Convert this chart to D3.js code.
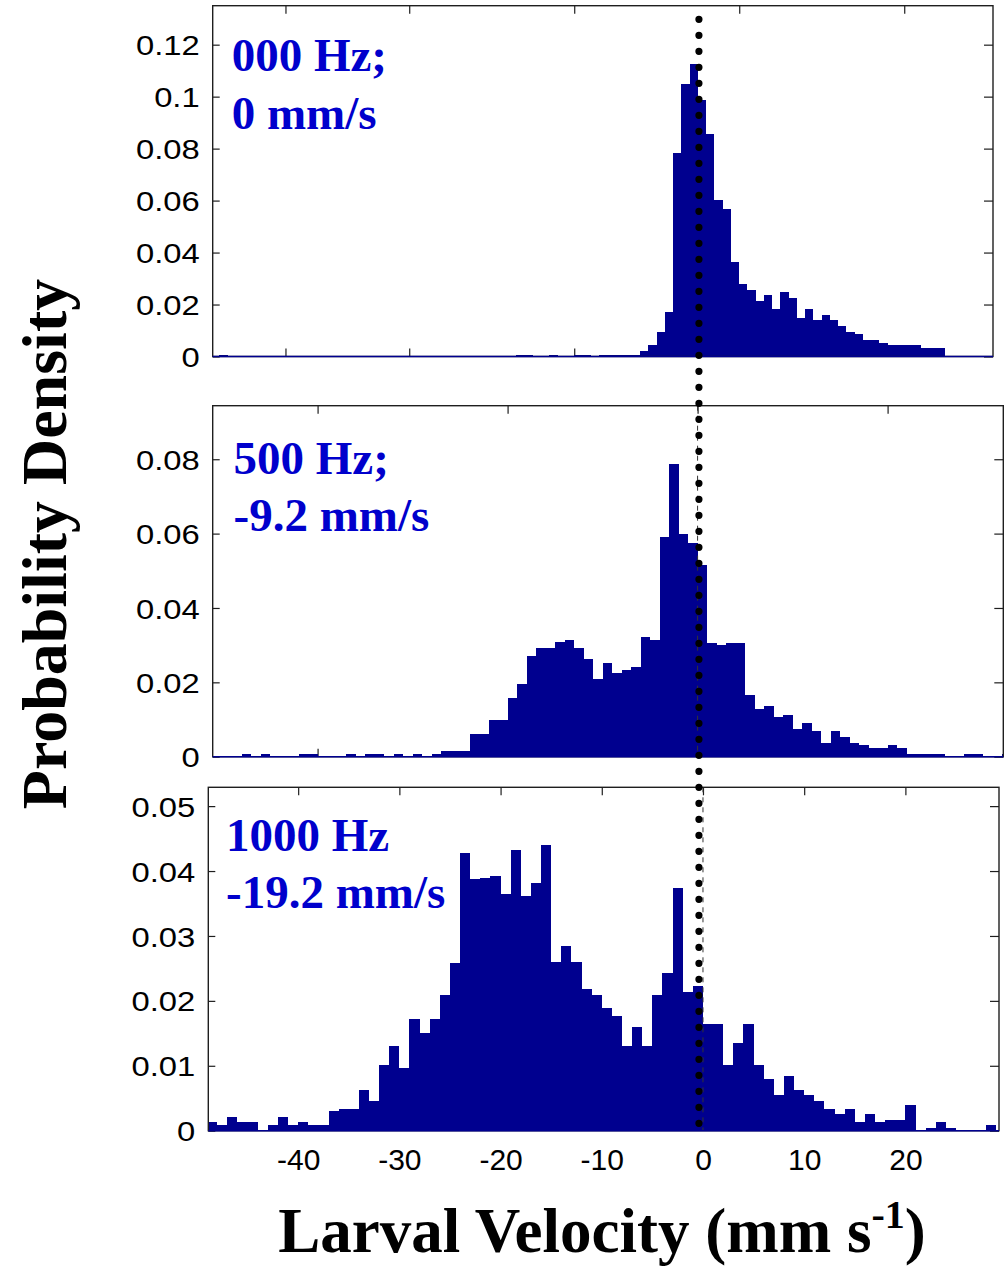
<!DOCTYPE html>
<html>
<head>
<meta charset="utf-8">
<script src="https://cdn.jsdelivr.net/npm/d3@7"></script>
<style>
  body { margin: 0; background: #fff; }
  svg { display: block; }
</style>
</head>
<body>
<div id="chart"></div>
<script>
// Histogram data, one bin = 1 mm/s, values are probability density
var binWidth = 1;

// 0 Hz panel, first bin starts at -63
var lowStart = -63;
var lowDensity = [
  0.0007,
  0, 0, 0, 0, 0, 0, 0, 0, 0, 0,
  0, 0, 0, 0, 0, 0, 0, 0, 0, 0,
  0, 0, 0, 0, 0, 0, 0, 0, 0, 0,
  0, 0, 0, 0, 0,
  0.0007, 0.0007, 0, 0, 0.0007, 0, 0, 0.0007, 0.0007, 0,
  0.0007, 0.0007, 0.0007, 0.0007, 0.0007,
  0.0021, 0.0044, 0.0094, 0.0171, 0.0783, 0.1048, 0.1126, 0.0988, 0.0856, 0.0602, 0.0567, 0.0363,
  0.0279, 0.0256, 0.0214, 0.0237, 0.0183, 0.0248, 0.0225, 0.0148, 0.0183, 0.0140,
  0.0160, 0.0140, 0.0117, 0.0094, 0.0087, 0.0063, 0.0063, 0.0052, 0.0044, 0.0044,
  0.0044, 0.0044, 0.0033, 0.0033, 0.0033
];

// 500 Hz panel, first bin starts at -48
var midStart = -48;
var midDensity = [
  0.0007, 0, 0.0007, 0, 0, 0, 0.0007, 0.0007, 0, 0,
  0, 0.0007, 0, 0.0007, 0.0007, 0, 0.0007, 0, 0.0007, 0,
  0.0007, 0.0015, 0.0015, 0.0015, 0.0061, 0.0061, 0.0098, 0.0098, 0.0157, 0.0195,
  0.0270, 0.0292, 0.0292, 0.0308, 0.0313, 0.0292, 0.0262, 0.0209, 0.0253, 0.0225,
  0.0233, 0.0241, 0.0321, 0.0314, 0.0590, 0.0786, 0.0598, 0.0576,
  0.0515, 0.0307, 0.0300, 0.0307, 0.0307, 0.0166, 0.0128, 0.0136, 0.0106, 0.0112,
  0.0074, 0.0090, 0.0069, 0.0037, 0.0069, 0.0053, 0.0037, 0.0031, 0.0023, 0.0023,
  0.0031, 0.0023, 0.0007, 0.0007, 0.0007, 0.0007, 0, 0, 0.0007, 0.0007,
  0, 0, 0.0007
];

// 1000 Hz panel, first bin starts at -49
var highStart = -49;
var highDensity = [
  0.0013, 0.0009, 0.0021, 0.0013, 0.0013, 0.0001, 0.0009, 0.0021, 0.0009, 0.0013,
  0.0009, 0.0009, 0.0030, 0.0033, 0.0033, 0.0063, 0.0046, 0.0101, 0.0130, 0.0097,
  0.0172, 0.0150, 0.0172, 0.0209, 0.0259, 0.0428, 0.0387, 0.0390, 0.0393, 0.0365,
  0.0432, 0.0361, 0.0381, 0.0440, 0.0260, 0.0285, 0.0260, 0.0218, 0.0209, 0.0189,
  0.0177, 0.0130, 0.0160, 0.0130, 0.0209, 0.0243, 0.0374, 0.0214, 0.0223,
  0.0164, 0.0164, 0.0101, 0.0135, 0.0164, 0.0101, 0.0080, 0.0055, 0.0084, 0.0063,
  0.0055, 0.0046, 0.0033, 0.0026, 0.0033, 0.0014, 0.0026, 0.0014, 0.0016, 0.0016,
  0.0039, 0.0001, 0.0004, 0.0014, 0.0004, 0.0001, 0.0001, 0.0001, 0.0009
];

// Panel text
var lowLabel = ["000 Hz;", "0 mm/s"];
var midLabel = ["500 Hz;", "-9.2 mm/s"];
var highLabel = ["1000 Hz", "-19.2 mm/s"];

// Axis limits and ticks
var lowXLimits = [-63.82, 30.76];
var midXLimits = [-51.04, 32.18];
var highXLimits = [-48.88, 29.25];
var lowYMax = 0.135;
var midYMax = 0.0944;
var highYMax = 0.0529;
var lowXTicks = [-55, -40, -20, 0, 20];
var midXTicks = [-40, -20, 0, 20];
var highXTicks = [-40, -30, -20, -10, 0, 10, 20];
var lowYTicks = [0, 0.02, 0.04, 0.06, 0.08, 0.1, 0.12];
var midYTicks = [0, 0.02, 0.04, 0.06, 0.08];
var highYTicks = [0, 0.01, 0.02, 0.03, 0.04, 0.05];

// Layout
var fullWidth = 1007;
var fullHeight = 1268;
var barColor = "#00008f";
var noteColor = "#0000cc";
var frameColor = "#1e1e1e";
var dotTop = 19.3;
var dotBottom = 1123.3;
var dotValue = -0.4; // where the dotted marker sits on the bottom axis

var panels = [
  { start: lowStart, density: lowDensity, label: lowLabel, xLimits: lowXLimits, yMax: lowYMax,
    xTicks: lowXTicks, yTicks: lowYTicks, dashZero: false, showX: false,
    box: { left: 212.7, right: 993, top: 5.7, bottom: 356.5 },
    note: { x: 231.7, y: 70.7, gap: 58.6 } },
  { start: midStart, density: midDensity, label: midLabel, xLimits: midXLimits, yMax: midYMax,
    xTicks: midXTicks, yTicks: midYTicks, dashZero: true, showX: false,
    box: { left: 212.7, right: 1003.3, top: 405.7, bottom: 756.7 },
    note: { x: 233.5, y: 474, gap: 56.7 } },
  { start: highStart, density: highDensity, label: highLabel, xLimits: highXLimits, yMax: highYMax,
    xTicks: highXTicks, yTicks: highYTicks, dashZero: true, showX: true,
    box: { left: 208.3, right: 999, top: 787.3, bottom: 1130.7 },
    note: { x: 226, y: 850.7, gap: 57 } }
];

var tickFont = '"Liberation Sans", Arial, Helvetica, sans-serif';
var titleFont = '"Liberation Serif", "Times New Roman", Times, serif';

var svg = d3.select('#chart')
  .append('svg')
  .attr('width', fullWidth)
  .attr('height', fullHeight);

function yFormat(d) {
  return d === 0 ? "0" : d3.format("~g")(d);
}

// plain hyphen minus, like the original figure
function xFormat(d) {
  return String(d);
}

function DrawPanel(p) {
  var box = p.box;
  var x = d3.scaleLinear().domain(p.xLimits).range([box.left, box.right]).clamp(true);
  var y = d3.scaleLinear().domain([0, p.yMax]).range([box.bottom, box.top]);
  var g = svg.append('g');

  // bins -> bars
  var bins = p.density.map(function(d, i) {
    return { x0: p.start + i * binWidth, x1: p.start + (i + 1) * binWidth, value: d };
  }).filter(function(d) { return d.value > 0; });

  // tick marks (inward, all four sides)
  var top = g.append('g').attr('transform', 'translate(0,' + box.top + ')')
    .call(d3.axisTop(x).tickValues(p.xTicks).tickSize(-8).tickFormat(''));
  var bottom = g.append('g').attr('transform', 'translate(0,' + box.bottom + ')')
    .call(d3.axisBottom(x).tickValues(p.xTicks).tickSize(-8).tickPadding(18)
      .tickFormat(p.showX ? xFormat : ''));
  var left = g.append('g').attr('transform', 'translate(' + box.left + ',0)')
    .call(d3.axisLeft(y).tickValues(p.yTicks).tickSize(-7).tickPadding(13).tickFormat(yFormat));
  var right = g.append('g').attr('transform', 'translate(' + box.right + ',0)')
    .call(d3.axisRight(y).tickValues(p.yTicks).tickSize(-9).tickFormat(''));

  [top, bottom, left, right].forEach(function(a) {
    a.select('.domain').remove();
    a.selectAll('line').attr('stroke', frameColor).attr('stroke-width', 1.2);
    a.selectAll('text').attr('font-family', tickFont).attr('fill', '#000');
  });

  left.selectAll('text')
    .attr('font-size', 28)
    .attr('dy', '0.36em')
    .each(function() {
      var w = this.getComputedTextLength();
      d3.select(this).attr('textLength', w * 1.17).attr('lengthAdjust', 'spacingAndGlyphs');
    });
  bottom.selectAll('text').attr('font-size', 30);

  g.append('g').selectAll('rect')
    .data(bins)
    .enter()
    .append('rect')
      .attr('x', function(d) { return x(d.x0); })
      .attr('width', function(d) { return Math.max(0, x(d.x1) - x(d.x0)); })
      .attr('y', function(d) { return y(d.value); })
      .attr('height', function(d) { return y(0) - y(d.value); })
      .attr('fill', barColor)
      .attr('shape-rendering', 'crispEdges');

  // thin dashed zero line
  if (p.dashZero) {
    g.append('line')
      .attr('x1', x(0)).attr('x2', x(0))
      .attr('y1', box.top).attr('y2', box.bottom)
      .attr('stroke', '#333')
      .attr('stroke-width', 1)
      .attr('stroke-dasharray', '5,5');
  }

  // frame
  g.append('rect')
    .attr('x', box.left).attr('y', box.top)
    .attr('width', box.right - box.left).attr('height', box.bottom - box.top)
    .attr('fill', 'none')
    .attr('stroke', frameColor)
    .attr('stroke-width', 1.4);
  g.append('line')
    .attr('x1', box.left).attr('x2', box.right)
    .attr('y1', box.bottom).attr('y2', box.bottom)
    .attr('stroke', barColor)
    .attr('stroke-width', 1.6);

  // panel note
  var note = g.append('text')
    .attr('font-family', titleFont)
    .attr('font-weight', 'bold')
    .attr('font-size', 47)
    .attr('fill', noteColor);
  note.selectAll('tspan')
    .data(p.label)
    .enter()
    .append('tspan')
      .attr('x', p.note.x)
      .attr('y', function(d, i) { return p.note.y + i * p.note.gap; })
      .text(function(d) { return d; });

  return x;
}

var xScales = panels.map(DrawPanel);

// dotted marker line through all panels
var xBottom = xScales[2];
svg.append('line')
  .attr('x1', xBottom(dotValue)).attr('x2', xBottom(dotValue))
  .attr('y1', dotTop).attr('y2', dotBottom)
  .attr('stroke', '#000')
  .attr('stroke-width', 7.2)
  .attr('stroke-linecap', 'round')
  .attr('stroke-dasharray', '0,16');

// axis titles
svg.append('text')
  .attr('transform', 'translate(66,544) rotate(-90)')
  .attr('text-anchor', 'middle')
  .attr('font-family', titleFont)
  .attr('font-weight', 'bold')
  .attr('font-size', 64)
  .attr('fill', '#000')
  .text('Probability Density');

var xTitle = svg.append('text')
  .attr('x', 602)
  .attr('y', 1252)
  .attr('text-anchor', 'middle')
  .attr('font-family', titleFont)
  .attr('font-weight', 'bold')
  .attr('font-size', 63)
  .attr('fill', '#000');
xTitle.append('tspan').text('Larval Velocity (mm s');
xTitle.append('tspan').attr('font-size', 40).attr('dy', -24).text('-1');
xTitle.append('tspan').attr('dy', 24).text(')');
</script>
</body>
</html>
